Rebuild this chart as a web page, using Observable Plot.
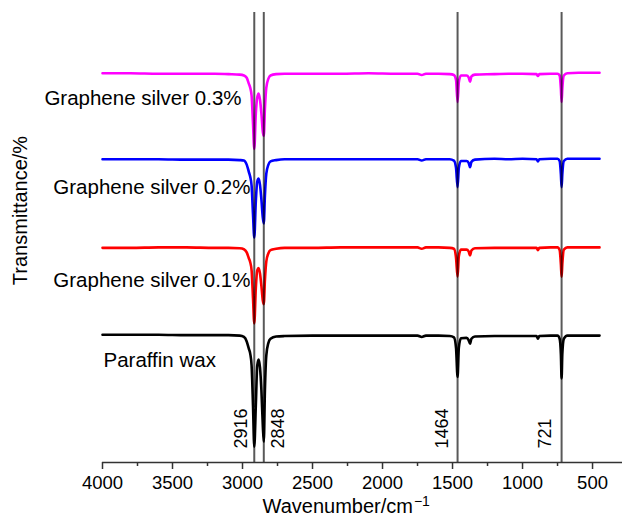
<!DOCTYPE html>
<html><head><meta charset="utf-8">
<script src="https://cdn.jsdelivr.net/npm/d3@7"></script>
<script src="https://cdn.jsdelivr.net/npm/@observablehq/plot@0.6"></script>
<style>body{margin:0;background:#fff}</style>
</head><body><div id="chart"></div>
<script>
// Wavenumber grid (cm^-1), shared by all spectra
const wavenumbers = [4000,3800,3600,3400,3200,3100,3020,2990,2970,2955,2945,2935,2925,2916,2905,2895,2885,2875,2865,2855,2848,2840,2830,2815,2800,2760,2700,2500,2300,2100,1900,1750,1720,1690,1600,1520,1490,1475,1464,1455,1440,1400,1385,1375,1365,1340,1200,1100,1000,900,890,880,800,750,735,726,721,716,705,680,600,500,450];
// Transmittance (offset, arbitrary units)
const paraffinWax = [28.4,28.4,28.4,28.3,28.3,28.3,28.2,27.9,26.9,25.3,24.2,21.5,12.6,3.5,12.6,21.5,22.9,21.1,16.0,8.2,4.6,16.0,23.8,26.6,27.5,28.0,28.1,28.2,28.2,28.2,28.2,28.2,27.9,28.2,28.2,28.1,27.8,25.5,19.0,25.5,27.6,27.7,27.2,26.4,27.5,28.0,28.1,28.1,28.1,28.1,27.5,28.1,28.2,28.2,27.5,24.0,18.7,24.0,27.5,28.2,28.2,28.2,28.2];
const graphene01 = [47.7,47.7,47.8,47.8,47.7,47.7,47.6,47.4,46.7,45.4,44.5,42.7,36.5,30.9,38.7,42.7,43.2,42.0,39.2,36.0,35.2,40.5,44.7,46.5,47.2,47.5,47.7,47.7,47.8,47.8,47.8,47.8,47.5,47.8,47.8,47.7,47.5,45.5,41.3,45.8,47.3,47.3,46.9,46.0,47.1,47.6,47.7,47.7,47.7,47.7,47.2,47.7,47.8,47.8,47.2,44.0,41.3,44.0,47.3,47.8,47.8,47.8,47.8];
const graphene02 = [67.4,67.4,67.4,67.3,67.3,67.3,67.2,67.1,66.2,64.6,63.5,61.5,55.1,50.0,58.0,62.4,63.1,61.7,58.4,54.4,53.1,59.3,64.2,66.2,66.9,67.2,67.4,67.4,67.4,67.4,67.4,67.4,67.1,67.4,67.4,67.4,67.1,65.5,61.2,65.5,67.0,67.0,66.6,65.6,66.8,67.3,67.5,67.4,67.5,67.4,66.9,67.4,67.5,67.5,67.0,64.0,61.2,64.0,67.0,67.5,67.5,67.5,67.5];
const graphene03 = [86.5,86.5,86.4,86.4,86.4,86.3,86.2,86.0,85.5,84.2,83.3,81.5,75.3,69.7,77.5,81.1,82.0,80.6,77.5,73.5,72.6,78.6,83.3,85.3,86.0,86.3,86.4,86.4,86.4,86.5,86.4,86.4,86.1,86.4,86.4,86.3,86.1,85.0,80.1,84.5,86.0,86.0,85.6,84.6,85.8,86.2,86.3,86.4,86.4,86.3,85.9,86.3,86.4,86.4,86.0,83.0,80.1,83.0,86.0,86.5,86.6,86.6,86.6];
const seriesNames = ["Paraffin wax","Graphene silver 0.1%","Graphene silver 0.2%","Graphene silver 0.3%"];
const seriesColors = ["#000000","#ff0000","#0000ff","#ff00ff"];
const peaks = [2916, 2848, 1464, 721];
const peakLabels = ["2916","2848","1464","721"];
const majorTicks = [4000,3500,3000,2500,2000,1500,1000,500];
const minorTicks = [3750,3250,2750,2250,1750,1250,750];
const xTitle = "Wavenumber/cm";
const xTitleSup = "\u22121";
const yTitle = "Transmittance/%";

const seriesValues = [paraffinWax, graphene01, graphene02, graphene03];
const rows = seriesNames.flatMap((name, i) =>
  wavenumbers.map((w, j) => ({series: name, wn: w, t: seriesValues[i][j]})));

// series label placement (wavenumber, transmittance, anchor)
const labelRows = [
  {name: seriesNames[0], wn: 3993, t: 22.7, anchor: "start"},
  {name: seriesNames[1], wn: 2943, t: 40.4, anchor: "end"},
  {name: seriesNames[2], wn: 2943, t: 61.2, anchor: "end"},
  {name: seriesNames[3], wn: 3007, t: 81.0, anchor: "end"}
];
const peakDx = [-13, 14, -15, -16];

const font = "'Liberation Sans', Arial, Helvetica, sans-serif";

const chart = Plot.plot({
  width: 622,
  height: 524,
  marginTop: 12,
  marginBottom: 62,
  marginLeft: 102,
  marginRight: 0,
  style: {fontFamily: font, fontSize: "18px", color: "#000", background: "#fff"},
  x: {domain: [4000, 286], label: null},
  y: {domain: [0, 100], axis: null},
  color: {domain: seriesNames, range: seriesColors},
  marks: [
    Plot.line(rows, {x: "wn", y: "t", z: "series", stroke: "series", strokeWidth: 2.6, curve: "monotone-x"}),
    Plot.ruleX(peaks, {x: d => d, y1: 0, y2: 100, stroke: "#000", strokeOpacity: 0.65, strokeWidth: 2}),
    Plot.ruleY([0], {stroke: "#333", strokeWidth: 1.5}),
    Plot.axisX({ticks: majorTicks, tickSize: 7, tickPadding: 6, fontSize: 18, label: null, stroke: "#333", strokeWidth: 1.5, tickFormat: d => `${d}`}),
    Plot.axisX({ticks: minorTicks, tickSize: 4, label: null, stroke: "#333", strokeWidth: 1.5, tickFormat: () => ""}),
    Plot.text(peaks, {x: d => d, y: 0, text: (d, i) => peakLabels[i], rotate: -90, textAnchor: "start", dy: -14, dx: -14, fontSize: 18, fill: "#000"}),
    Plot.text(labelRows.filter(d => d.anchor === "end"), {x: "wn", y: "t", text: "name", textAnchor: "end", fontSize: 20.5, fill: "#000"}),
    Plot.text(labelRows.filter(d => d.anchor === "start"), {x: "wn", y: "t", text: "name", textAnchor: "start", fontSize: 20.5, fill: "#000"}),
    Plot.text([yTitle], {frameAnchor: "left", textAnchor: "middle", rotate: -90, dx: -82, dy: -27, fontSize: 20, fill: "#000"}),
    Plot.text([xTitle], {frameAnchor: "bottom-left", textAnchor: "start", dx: 160, dy: 50, fontSize: 20, fill: "#000"})
  ]
});
document.getElementById("chart").appendChild(chart);

const texts = d3.select(chart).selectAll("text");
// per-peak label offsets
texts.filter(function() { return peakLabels.includes(this.textContent); })
  .each(function() {
    const k = peakLabels.indexOf(this.textContent);
    const tr = this.getAttribute("transform") || "";
    this.setAttribute("transform", `translate(${peakDx[k] + 14},0) ${tr}`);
  });
// tick label size
texts.filter(function() { return majorTicks.map(String).includes(this.textContent); })
  .style("font-size", "18.5px");
// x title with superscript
texts.filter(function() { return this.textContent === xTitle; })
  .style("font-size", "20px")
  .append("tspan").attr("dy", "-0.45em").attr("dx", "1").style("font-size", "14px").text(xTitleSup);
</script>
</body></html>
